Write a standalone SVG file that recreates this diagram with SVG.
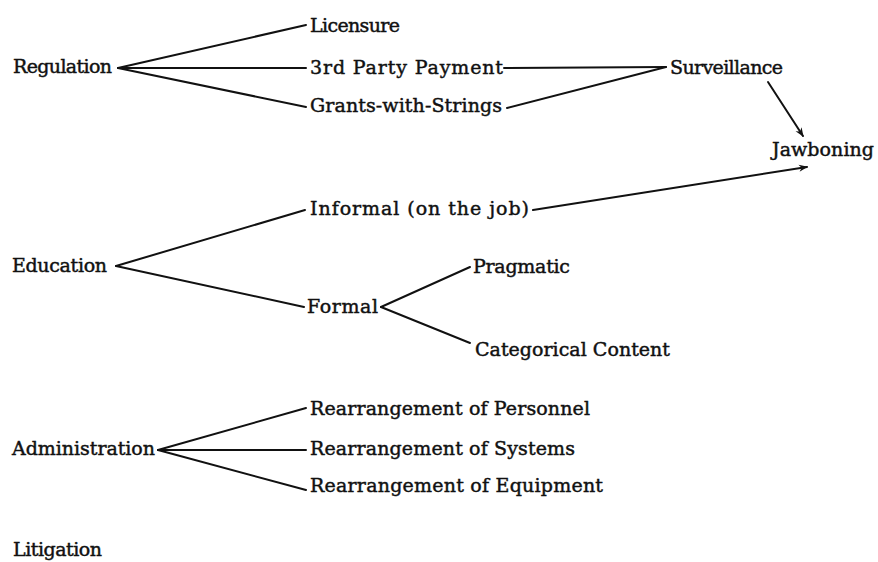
<svg xmlns="http://www.w3.org/2000/svg" width="878" height="562" viewBox="0 0 878 562">
<defs>
<style>
text{font-family:"DejaVu Serif","Liberation Serif",serif;font-size:19px;fill:#111;stroke:#111;stroke-width:0.45px;}
.c line{stroke:#111;stroke-width:2;fill:none;stroke-linecap:round;}
</style>
<marker id="ah" viewBox="0 0 10 10" refX="9" refY="5" markerWidth="12" markerHeight="9" orient="auto" markerUnits="userSpaceOnUse">
<path d="M0,1 L10,5 L0,9 L3,5 z" fill="#111"/>
</marker>
</defs>
<rect width="878" height="562" fill="#fff"/>
<g class="c" id="connectors">
<line x1="118" y1="68" x2="306" y2="25"/>
<line x1="118" y1="68" x2="306" y2="68"/>
<line x1="118" y1="68" x2="306" y2="107"/>
<line x1="504" y1="68" x2="666" y2="67"/>
<line x1="507" y1="108" x2="666" y2="67"/>
<line x1="768" y1="82" x2="803" y2="136" marker-end="url(#ah)"/>
<line x1="533" y1="210" x2="807" y2="167" marker-end="url(#ah)"/>
<line x1="116" y1="266" x2="305" y2="210"/>
<line x1="116" y1="266" x2="304" y2="307"/>
<line x1="381" y1="307" x2="470" y2="267"/>
<line x1="381" y1="307" x2="470" y2="343"/>
<line x1="158" y1="450" x2="306" y2="408"/>
<line x1="158" y1="450" x2="306" y2="450"/>
<line x1="158" y1="450" x2="306" y2="490"/>
</g>
<g id="regulation"><text x="13" y="73" textLength="99">Regulation</text></g>
<g id="licensure"><text x="310" y="32" textLength="90">Licensure</text></g>
<g id="third-party"><text x="310" y="74" textLength="193">3rd Party Payment</text></g>
<g id="grants"><text x="310" y="112" textLength="192">Grants-with-Strings</text></g>
<g id="surveillance"><text x="670" y="74" textLength="113">Surveillance</text></g>
<g id="jawboning"><text x="772" y="156" textLength="102">Jawboning</text></g>
<g id="education"><text x="12" y="272" textLength="95">Education</text></g>
<g id="informal"><text x="310" y="215" textLength="219">Informal (on the job)</text></g>
<g id="formal"><text x="307" y="313" textLength="71">Formal</text></g>
<g id="pragmatic"><text x="473" y="273" textLength="97">Pragmatic</text></g>
<g id="categorical"><text x="475" y="356" textLength="195">Categorical Content</text></g>
<g id="administration"><text x="12" y="455" textLength="143">Administration</text></g>
<g id="personnel"><text x="310" y="415" textLength="280">Rearrangement of Personnel</text></g>
<g id="systems"><text x="310" y="455" textLength="265">Rearrangement of Systems</text></g>
<g id="equipment"><text x="310" y="492" textLength="293">Rearrangement of Equipment</text></g>
<g id="litigation"><text x="13" y="556" textLength="89">Litigation</text></g>
</svg>
